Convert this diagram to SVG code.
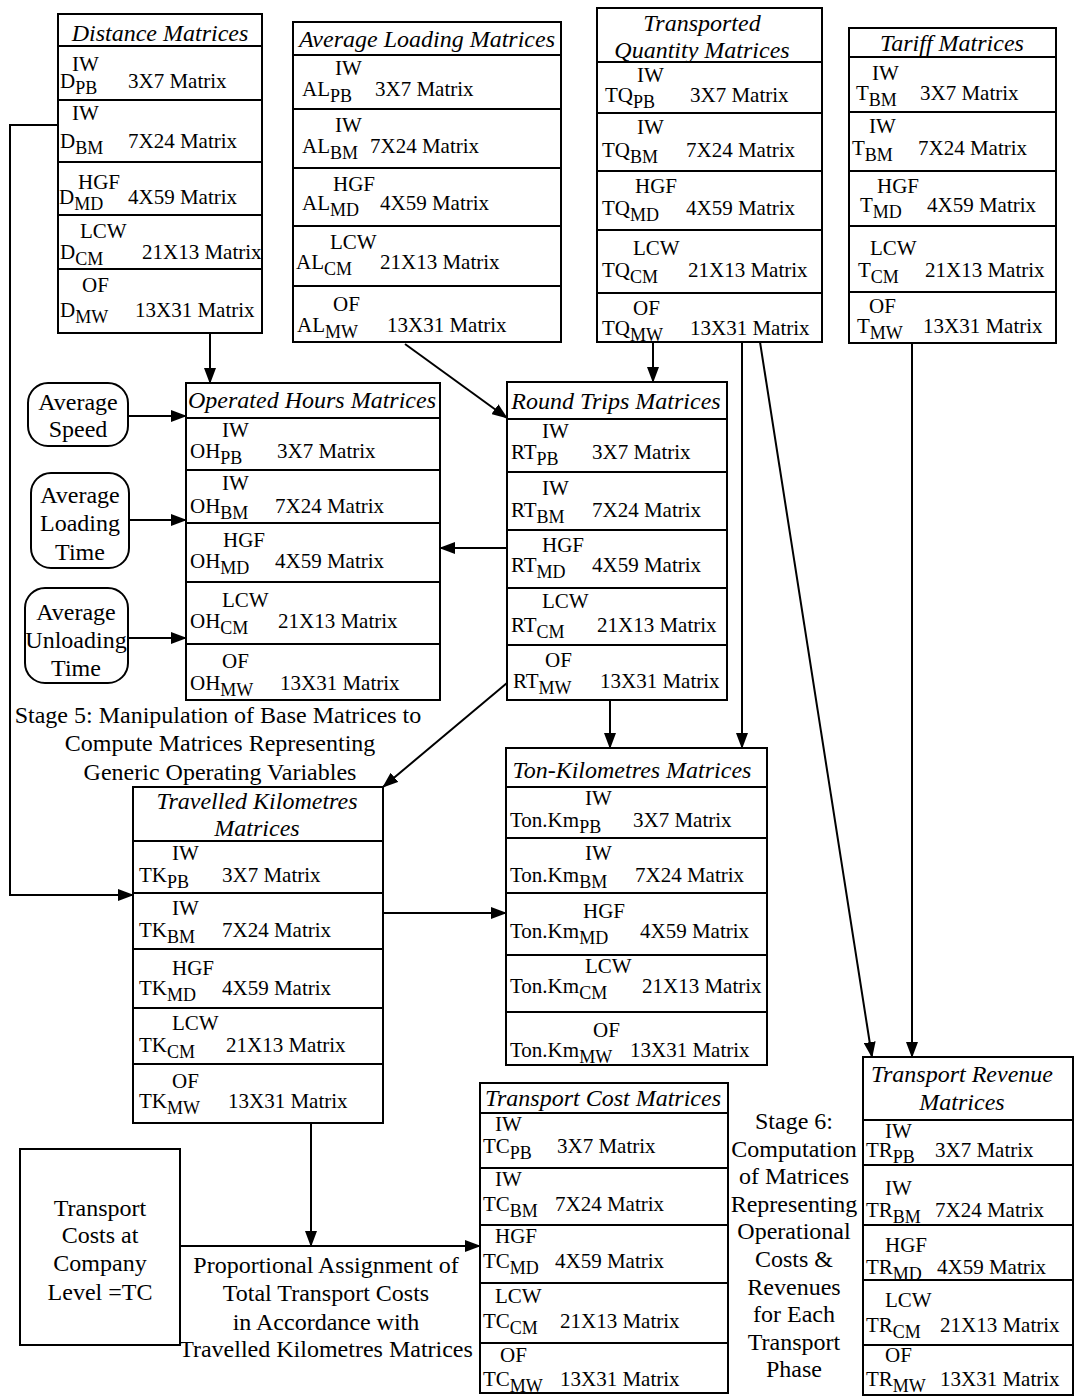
<svg xmlns="http://www.w3.org/2000/svg" width="1075" height="1396" viewBox="0 0 1075 1396">
<style>
.box{fill:#fff;stroke:#000;stroke-width:2}
.dv{stroke:#000;stroke-width:2}
.cn{fill:none;stroke:#000;stroke-width:2}
text{font-family:"Liberation Serif","Times New Roman",serif;fill:#000}
.r{font-size:21px}
.ti{font-size:24px;font-style:italic;text-anchor:middle}
.lb{font-size:24px;text-anchor:middle}
.s{font-size:18px}
</style>
<defs>
<marker id="ah" markerUnits="userSpaceOnUse" markerWidth="16" markerHeight="12" refX="15" refY="6" orient="auto">
<path d="M0,0 L16,6 L0,12 z" fill="#000"/>
</marker>
</defs>

<g id="connectors" class="cn" marker-end="url(#ah)">
<path d="M210,333 V383"/>
<path d="M58,125 H10 V895 H133"/>
<path d="M405,344 L507,418"/>
<path d="M653,342 V382"/>
<path d="M742,342 V748"/>
<path d="M760,342 L872,1057"/>
<path d="M912,343 V1057"/>
<path d="M128,416 H186"/>
<path d="M129,520 H186"/>
<path d="M128,638 H186"/>
<path d="M507,548 H440"/>
<path d="M610,700 V748"/>
<path d="M507,683 L383,787"/>
<path d="M383,913 H506"/>
<path d="M311,1123 V1246"/>
<path d="M180,1246 H480"/>
</g>

<g id="distance">
<rect class="box" x="58" y="14" width="204" height="319"/>
<path class="dv" d="M58,46 H262 M58,100 H262 M58,162 H262 M58,215 H262 M58,269 H262"/>
<text class="ti" x="160" y="41">Distance Matrices</text>
<text class="r" x="72" y="71">IW</text><text class="r" x="60" y="88">D<tspan class="s" dy="6">PB</tspan></text><text class="r" x="128" y="88">3X7 Matrix</text>
<text class="r" x="72" y="120">IW</text><text class="r" x="60" y="148">D<tspan class="s" dy="6">BM</tspan></text><text class="r" x="128" y="148">7X24 Matrix</text>
<text class="r" x="78" y="189">HGF</text><text class="r" x="59" y="204">D<tspan class="s" dy="6">MD</tspan></text><text class="r" x="128" y="204">4X59 Matrix</text>
<text class="r" x="80" y="238">LCW</text><text class="r" x="60" y="259">D<tspan class="s" dy="6">CM</tspan></text><text class="r" x="142" y="259">21X13 Matrix</text>
<text class="r" x="82" y="292">OF</text><text class="r" x="60" y="317">D<tspan class="s" dy="6">MW</tspan></text><text class="r" x="135" y="317">13X31 Matrix</text>
</g>

<g id="avg-loading">
<rect class="box" x="293" y="22" width="268" height="320"/>
<path class="dv" d="M293,55 H561 M293,109 H561 M293,168 H561 M293,226 H561 M293,286 H561"/>
<text class="ti" x="427" y="47">Average Loading Matrices</text>
<text class="r" x="335" y="75">IW</text><text class="r" x="302" y="96">AL<tspan class="s" dy="6">PB</tspan></text><text class="r" x="375" y="96">3X7 Matrix</text>
<text class="r" x="335" y="132">IW</text><text class="r" x="302" y="153">AL<tspan class="s" dy="6">BM</tspan></text><text class="r" x="370" y="153">7X24 Matrix</text>
<text class="r" x="333" y="191">HGF</text><text class="r" x="302" y="210">AL<tspan class="s" dy="6">MD</tspan></text><text class="r" x="380" y="210">4X59 Matrix</text>
<text class="r" x="330" y="249">LCW</text><text class="r" x="296" y="269">AL<tspan class="s" dy="6">CM</tspan></text><text class="r" x="380" y="269">21X13 Matrix</text>
<text class="r" x="333" y="311">OF</text><text class="r" x="297" y="332">AL<tspan class="s" dy="6">MW</tspan></text><text class="r" x="387" y="332">13X31 Matrix</text>
</g>

<g id="transported-quantity">
<rect class="box" x="597" y="8" width="225" height="334"/>
<path class="dv" d="M597,62 H822 M597,113 H822 M597,171 H822 M597,230 H822 M597,293 H822"/>
<text class="ti" x="702" y="31">Transported</text>
<text class="ti" x="702" y="58">Quantity Matrices</text>
<text class="r" x="637" y="82">IW</text><text class="r" x="605" y="102">TQ<tspan class="s" dy="6">PB</tspan></text><text class="r" x="690" y="102">3X7 Matrix</text>
<text class="r" x="637" y="134">IW</text><text class="r" x="602" y="157">TQ<tspan class="s" dy="6">BM</tspan></text><text class="r" x="686" y="157">7X24 Matrix</text>
<text class="r" x="635" y="193">HGF</text><text class="r" x="602" y="215">TQ<tspan class="s" dy="6">MD</tspan></text><text class="r" x="686" y="215">4X59 Matrix</text>
<text class="r" x="633" y="255">LCW</text><text class="r" x="602" y="277">TQ<tspan class="s" dy="6">CM</tspan></text><text class="r" x="688" y="277">21X13 Matrix</text>
<text class="r" x="633" y="315">OF</text><text class="r" x="602" y="335">TQ<tspan class="s" dy="6">MW</tspan></text><text class="r" x="690" y="335">13X31 Matrix</text>
</g>

<g id="tariff">
<rect class="box" x="849" y="28" width="207" height="315"/>
<path class="dv" d="M849,57 H1056 M849,112 H1056 M849,171 H1056 M849,226 H1056 M849,292 H1056"/>
<text class="ti" x="952" y="51">Tariff Matrices</text>
<text class="r" x="872" y="80">IW</text><text class="r" x="856" y="100">T<tspan class="s" dy="6">BM</tspan></text><text class="r" x="920" y="100">3X7 Matrix</text>
<text class="r" x="869" y="133">IW</text><text class="r" x="852" y="155">T<tspan class="s" dy="6">BM</tspan></text><text class="r" x="918" y="155">7X24 Matrix</text>
<text class="r" x="877" y="193">HGF</text><text class="r" x="860" y="212">T<tspan class="s" dy="6">MD</tspan></text><text class="r" x="927" y="212">4X59 Matrix</text>
<text class="r" x="870" y="255">LCW</text><text class="r" x="858" y="277">T<tspan class="s" dy="6">CM</tspan></text><text class="r" x="925" y="277">21X13 Matrix</text>
<text class="r" x="869" y="313">OF</text><text class="r" x="857" y="333">T<tspan class="s" dy="6">MW</tspan></text><text class="r" x="923" y="333">13X31 Matrix</text>
</g>

<g id="average-speed">
<rect class="box" x="28" y="383" width="100" height="63" rx="20"/>
<text class="lb" x="78" y="410">Average</text>
<text class="lb" x="78" y="437">Speed</text>
</g>
<g id="average-loading-time">
<rect class="box" x="31" y="473" width="98" height="95" rx="20"/>
<text class="lb" x="80" y="503">Average</text>
<text class="lb" x="80" y="531">Loading</text>
<text class="lb" x="80" y="560">Time</text>
</g>
<g id="average-unloading-time">
<rect class="box" x="25" y="588" width="103" height="95" rx="20"/>
<text class="lb" x="76" y="620">Average</text>
<text class="lb" x="76" y="648">Unloading</text>
<text class="lb" x="76" y="676">Time</text>
</g>

<g id="operated-hours">
<rect class="box" x="186" y="383" width="254" height="317"/>
<path class="dv" d="M186,418 H440 M186,470 H440 M186,523 H440 M186,582 H440 M186,644 H440"/>
<text class="ti" x="312" y="408">Operated Hours Matrices</text>
<text class="r" x="222" y="437">IW</text><text class="r" x="190" y="458">OH<tspan class="s" dy="6">PB</tspan></text><text class="r" x="277" y="458">3X7 Matrix</text>
<text class="r" x="222" y="490">IW</text><text class="r" x="190" y="513">OH<tspan class="s" dy="6">BM</tspan></text><text class="r" x="275" y="513">7X24 Matrix</text>
<text class="r" x="223" y="547">HGF</text><text class="r" x="190" y="568">OH<tspan class="s" dy="6">MD</tspan></text><text class="r" x="275" y="568">4X59 Matrix</text>
<text class="r" x="222" y="607">LCW</text><text class="r" x="190" y="628">OH<tspan class="s" dy="6">CM</tspan></text><text class="r" x="278" y="628">21X13 Matrix</text>
<text class="r" x="222" y="668">OF</text><text class="r" x="190" y="690">OH<tspan class="s" dy="6">MW</tspan></text><text class="r" x="280" y="690">13X31 Matrix</text>
</g>

<g id="round-trips">
<rect class="box" x="507" y="382" width="220" height="318"/>
<path class="dv" d="M507,419 H727 M507,472 H727 M507,530 H727 M507,588 H727 M507,645 H727"/>
<text class="ti" x="616" y="409">Round Trips Matrices</text>
<text class="r" x="542" y="438">IW</text><text class="r" x="511" y="459">RT<tspan class="s" dy="6">PB</tspan></text><text class="r" x="592" y="459">3X7 Matrix</text>
<text class="r" x="542" y="495">IW</text><text class="r" x="511" y="517">RT<tspan class="s" dy="6">BM</tspan></text><text class="r" x="592" y="517">7X24 Matrix</text>
<text class="r" x="542" y="552">HGF</text><text class="r" x="511" y="572">RT<tspan class="s" dy="6">MD</tspan></text><text class="r" x="592" y="572">4X59 Matrix</text>
<text class="r" x="542" y="608">LCW</text><text class="r" x="511" y="632">RT<tspan class="s" dy="6">CM</tspan></text><text class="r" x="597" y="632">21X13 Matrix</text>
<text class="r" x="545" y="667">OF</text><text class="r" x="513" y="688">RT<tspan class="s" dy="6">MW</tspan></text><text class="r" x="600" y="688">13X31 Matrix</text>
</g>

<g id="stage5-label">
<text class="lb" x="218" y="723">Stage 5: Manipulation of Base Matrices to</text>
<text class="lb" x="220" y="751">Compute Matrices Representing</text>
<text class="lb" x="220" y="780">Generic Operating Variables</text>
</g>

<g id="travelled-km">
<rect class="box" x="133" y="787" width="250" height="336"/>
<path class="dv" d="M133,841 H383 M133,893 H383 M133,949 H383 M133,1008 H383 M133,1064 H383"/>
<text class="ti" x="257" y="809">Travelled Kilometres</text>
<text class="ti" x="257" y="836">Matrices</text>
<text class="r" x="172" y="860">IW</text><text class="r" x="139" y="882">TK<tspan class="s" dy="6">PB</tspan></text><text class="r" x="222" y="882">3X7 Matrix</text>
<text class="r" x="172" y="915">IW</text><text class="r" x="139" y="937">TK<tspan class="s" dy="6">BM</tspan></text><text class="r" x="222" y="937">7X24 Matrix</text>
<text class="r" x="172" y="975">HGF</text><text class="r" x="139" y="995">TK<tspan class="s" dy="6">MD</tspan></text><text class="r" x="222" y="995">4X59 Matrix</text>
<text class="r" x="172" y="1030">LCW</text><text class="r" x="139" y="1052">TK<tspan class="s" dy="6">CM</tspan></text><text class="r" x="226" y="1052">21X13 Matrix</text>
<text class="r" x="172" y="1088">OF</text><text class="r" x="139" y="1108">TK<tspan class="s" dy="6">MW</tspan></text><text class="r" x="228" y="1108">13X31 Matrix</text>
</g>

<g id="ton-km">
<rect class="box" x="506" y="748" width="261" height="317"/>
<path class="dv" d="M506,787 H767 M506,838 H767 M506,893 H767 M506,955 H767 M506,1012 H767"/>
<text class="ti" x="632" y="778">Ton-Kilometres Matrices</text>
<text class="r" x="585" y="805">IW</text><text class="r" x="510" y="827">Ton.Km<tspan class="s" dy="6">PB</tspan></text><text class="r" x="633" y="827">3X7 Matrix</text>
<text class="r" x="585" y="860">IW</text><text class="r" x="510" y="882">Ton.Km<tspan class="s" dy="6">BM</tspan></text><text class="r" x="635" y="882">7X24 Matrix</text>
<text class="r" x="583" y="918">HGF</text><text class="r" x="510" y="938">Ton.Km<tspan class="s" dy="6">MD</tspan></text><text class="r" x="640" y="938">4X59 Matrix</text>
<text class="r" x="585" y="973">LCW</text><text class="r" x="510" y="993">Ton.Km<tspan class="s" dy="6">CM</tspan></text><text class="r" x="642" y="993">21X13 Matrix</text>
<text class="r" x="593" y="1037">OF</text><text class="r" x="510" y="1057">Ton.Km<tspan class="s" dy="6">MW</tspan></text><text class="r" x="630" y="1057">13X31 Matrix</text>
</g>

<g id="company-costs">
<rect class="box" x="20" y="1149" width="160" height="196"/>
<text class="lb" x="100" y="1216">Transport</text>
<text class="lb" x="100" y="1243">Costs at</text>
<text class="lb" x="100" y="1271">Company</text>
<text class="lb" x="100" y="1300">Level =TC</text>
</g>

<g id="proportional-label">
<text class="lb" x="326" y="1273">Proportional Assignment of</text>
<text class="lb" x="326" y="1301">Total Transport Costs</text>
<text class="lb" x="326" y="1330">in Accordance with</text>
<text class="lb" x="326" y="1357">Travelled Kilometres Matrices</text>
</g>

<g id="transport-cost">
<rect class="box" x="480" y="1083" width="248" height="310"/>
<path class="dv" d="M480,1113 H728 M480,1168 H728 M480,1225 H728 M480,1283 H728 M480,1343 H728"/>
<text class="ti" x="603" y="1106">Transport Cost Matrices</text>
<text class="r" x="495" y="1131">IW</text><text class="r" x="483" y="1153">TC<tspan class="s" dy="6">PB</tspan></text><text class="r" x="557" y="1153">3X7 Matrix</text>
<text class="r" x="495" y="1186">IW</text><text class="r" x="483" y="1211">TC<tspan class="s" dy="6">BM</tspan></text><text class="r" x="555" y="1211">7X24 Matrix</text>
<text class="r" x="495" y="1243">HGF</text><text class="r" x="483" y="1268">TC<tspan class="s" dy="6">MD</tspan></text><text class="r" x="555" y="1268">4X59 Matrix</text>
<text class="r" x="495" y="1303">LCW</text><text class="r" x="483" y="1328">TC<tspan class="s" dy="6">CM</tspan></text><text class="r" x="560" y="1328">21X13 Matrix</text>
<text class="r" x="500" y="1362">OF</text><text class="r" x="483" y="1386">TC<tspan class="s" dy="6">MW</tspan></text><text class="r" x="560" y="1386">13X31 Matrix</text>
</g>

<g id="stage6-label">
<text class="lb" x="794" y="1129">Stage 6:</text>
<text class="lb" x="794" y="1157">Computation</text>
<text class="lb" x="794" y="1184">of Matrices</text>
<text class="lb" x="794" y="1212">Representing</text>
<text class="lb" x="794" y="1239">Operational</text>
<text class="lb" x="794" y="1267">Costs &amp;</text>
<text class="lb" x="794" y="1295">Revenues</text>
<text class="lb" x="794" y="1322">for Each</text>
<text class="lb" x="794" y="1350">Transport</text>
<text class="lb" x="794" y="1377">Phase</text>
</g>

<g id="transport-revenue">
<rect class="box" x="863" y="1057" width="210" height="338"/>
<path class="dv" d="M863,1120 H1073 M863,1165 H1073 M863,1225 H1073 M863,1280 H1073 M863,1345 H1073"/>
<text class="ti" x="962" y="1082">Transport Revenue</text>
<text class="ti" x="962" y="1110">Matrices</text>
<text class="r" x="885" y="1138">IW</text><text class="r" x="866" y="1157">TR<tspan class="s" dy="6">PB</tspan></text><text class="r" x="935" y="1157">3X7 Matrix</text>
<text class="r" x="885" y="1195">IW</text><text class="r" x="866" y="1217">TR<tspan class="s" dy="6">BM</tspan></text><text class="r" x="935" y="1217">7X24 Matrix</text>
<text class="r" x="885" y="1252">HGF</text><text class="r" x="866" y="1274">TR<tspan class="s" dy="6">MD</tspan></text><text class="r" x="937" y="1274">4X59 Matrix</text>
<text class="r" x="885" y="1307">LCW</text><text class="r" x="866" y="1332">TR<tspan class="s" dy="6">CM</tspan></text><text class="r" x="940" y="1332">21X13 Matrix</text>
<text class="r" x="885" y="1362">OF</text><text class="r" x="866" y="1386">TR<tspan class="s" dy="6">MW</tspan></text><text class="r" x="940" y="1386">13X31 Matrix</text>
</g>
</svg>
